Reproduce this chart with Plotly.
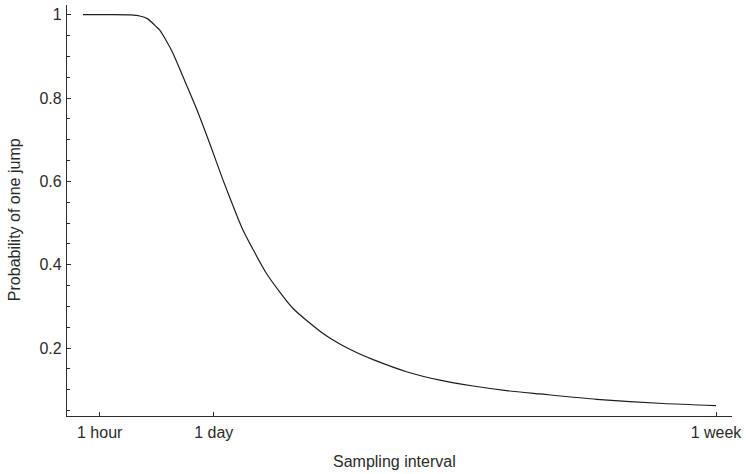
import plotly.graph_objects as go

# x in days-like axis units (1 day = 1, 1 week = 7), 1 hour tick placed as in reference
interval_pos = [-0.562, -0.243, 0.004, 0.116, 0.211, 0.315, 0.355, 0.435, 0.514, 0.633,
                0.793, 0.952, 1.111, 1.290, 1.350, 1.630, 1.948, 2.306, 2.506, 2.745, 2.904,
                3.303, 3.701, 4.099, 4.498, 4.896, 5.574, 6.370, 7.000]
prob_one_jump = [1.0, 1.0, 0.9995, 0.997, 0.990, 0.971, 0.963, 0.937, 0.907, 0.851,
                 0.775, 0.691, 0.603, 0.511, 0.483, 0.379, 0.295, 0.235, 0.2097, 0.1857, 0.1723,
                 0.1433, 0.123, 0.109, 0.098, 0.090, 0.077, 0.067, 0.062]

x_tick_vals = [-0.3625, 1.0, 7.0]
x_tick_text = ["1 hour", "1 day", "1 week"]
y_tick_vals = [0.2, 0.4, 0.6, 0.8, 1.0]
y_tick_text = ["0.2", "0.4", "0.6", "0.8", "1"]
y_minor_vals = [0.05, 0.1, 0.15, 0.25, 0.3, 0.35, 0.45, 0.5, 0.55,
                0.65, 0.7, 0.75, 0.85, 0.9, 0.95]

x_title = "Sampling interval"
y_title = "Probability of one jump"

FONT = "Liberation Sans, Arial, sans-serif"
INK = "#2b2b2b"

fig = go.Figure()
fig.add_trace(go.Scatter(x=interval_pos, y=prob_one_jump, mode="lines",
                         line=dict(color="#1e1e1e", width=1.2, shape="spline", smoothing=0.6),
                         showlegend=False, hoverinfo="skip"))

fig.update_layout(
    width=746, height=474,
    margin=dict(l=67, r=14, t=5, b=58),
    paper_bgcolor="white", plot_bgcolor="white",
    font=dict(family=FONT, size=16, color=INK),
    xaxis=dict(
        range=[-0.753, 7.191], showgrid=False, zeroline=False, automargin=False,
        showline=True, linecolor=INK, linewidth=1.3,
        tickmode="array", tickvals=x_tick_vals, ticktext=x_tick_text,
        ticks="inside", ticklen=4, tickwidth=1, tickcolor=INK,
        ticklabelstandoff=2,
    ),
    yaxis=dict(
        range=[0.037, 1.0233], showgrid=False, zeroline=False, automargin=False,
        showline=True, linecolor=INK, linewidth=1.3,
        tickmode="array", tickvals=y_tick_vals, ticktext=y_tick_text,
        ticks="inside", ticklen=4, tickwidth=1, tickcolor=INK,
        ticklabelstandoff=1,
        minor=dict(tickmode="array", tickvals=y_minor_vals,
                   ticks="inside", ticklen=3, tickcolor=INK, tickwidth=1),
    ),
    annotations=[
        dict(text=x_title, xref="paper", yref="paper", x=0.4932, y=-0.1095,
             xanchor="center", yanchor="middle", showarrow=False,
             font=dict(family=FONT, size=16, color=INK)),
        dict(text=y_title, xref="paper", yref="paper", x=-0.0797, y=0.479,
             xanchor="center", yanchor="middle", showarrow=False, textangle=-90,
             font=dict(family=FONT, size=16, color=INK)),
    ],
)

fig.write_html("out.html", config={"displayModeBar": False},
               post_script="document.body.style.margin='0';document.body.style.padding='0';")
